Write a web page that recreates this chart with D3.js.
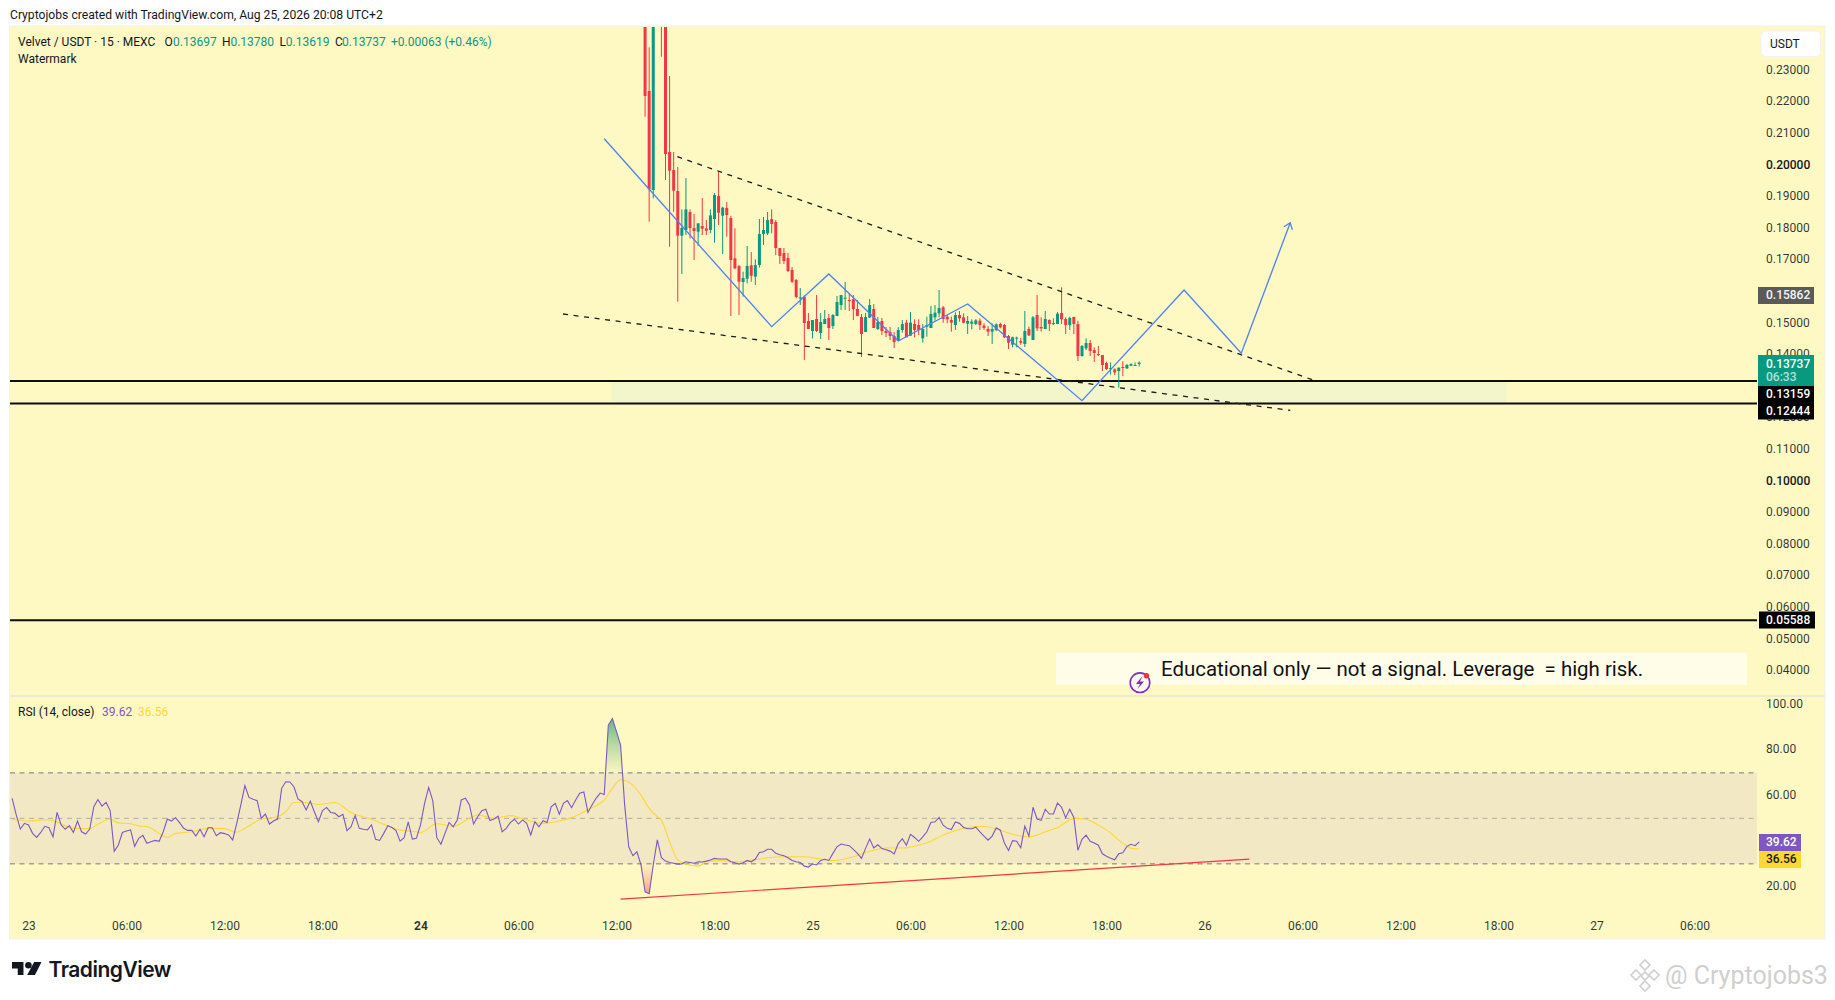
<!DOCTYPE html>
<html>
<head>
<meta charset="utf-8">
<title>Velvet / USDT</title>
<script src="https://cdnjs.cloudflare.com/ajax/libs/d3/7.8.5/d3.min.js"></script>
<style>
  html, body { margin: 0; padding: 0; background: #fff; overflow: hidden; }
  svg { display: block; }
  text { font-family: Roboto, "Noto Sans", sans-serif; white-space: pre; }
</style>
</head>
<body>
<svg id="chart" width="1835" height="1000"></svg>
<script>
// Candles start at this bar (15 minute bars counted from Aug 23 00:00)
const firstCandleBar = 151;

const opens = [
  0.27, 0.22335, 0.19202, 0.3, 0.28, 0.25, 0.20405, 0.19835, 0.1917, 0.17757,
  0.17936, 0.18506, 0.17999, 0.17883, 0.18063, 0.17989, 0.17936, 0.18284, 0.19012, 0.1839,
  0.18632, 0.18316, 0.17039, 0.16797, 0.16291, 0.16396, 0.16818, 0.16459, 0.16828, 0.1781,
  0.17831, 0.18284, 0.18189, 0.17366, 0.17208, 0.1705, 0.1667, 0.16354, 0.15774, 0.15826,
  0.15056, 0.1474, 0.1512, 0.14676, 0.14961, 0.15151, 0.14898, 0.15214, 0.15563, 0.15763,
  0.15721, 0.15742, 0.15436, 0.15183, 0.14708, 0.15162, 0.15436, 0.14803, 0.15056, 0.1474,
  0.14708, 0.14582, 0.14423, 0.14772, 0.15004, 0.14592, 0.14962, 0.1493, 0.14508, 0.14877,
  0.14835, 0.15173, 0.15299, 0.15489, 0.15194, 0.15088, 0.1493, 0.15246, 0.15173, 0.14972,
  0.14972, 0.14962, 0.15067, 0.14909, 0.14803, 0.14719, 0.14761, 0.14962, 0.1493, 0.14582,
  0.14308, 0.14497, 0.14424, 0.14329, 0.14803, 0.14455, 0.15246, 0.14867, 0.14803, 0.15088,
  0.14962, 0.14962, 0.1531, 0.1512, 0.1493, 0.15183, 0.14962, 0.13949, 0.14192, 0.1436,
  0.14139, 0.14012, 0.1398, 0.13727, 0.13537, 0.13527, 0.13474, 0.13601, 0.13559, 0.13643,
  0.13643, 0.13697
];
const highs = [
  0.275, 0.23717, 0.3, 0.33, 0.295, 0.26, 0.2281, 0.20405, 0.1993, 0.1859,
  0.19582, 0.1859, 0.18442, 0.18147, 0.18949, 0.18253, 0.1859, 0.19107, 0.19803, 0.18675,
  0.18822, 0.18379, 0.17989, 0.16828, 0.16618, 0.1743, 0.1724, 0.17008, 0.18284, 0.18348,
  0.18506, 0.1859, 0.18253, 0.17366, 0.17366, 0.17208, 0.16765, 0.16385, 0.16101, 0.15869,
  0.15309, 0.15088, 0.15879, 0.15309, 0.15404, 0.15278, 0.15278, 0.15847, 0.15879, 0.16291,
  0.15942, 0.15879, 0.15721, 0.15278, 0.15309, 0.15752, 0.15594, 0.15183, 0.15151, 0.14866,
  0.14866, 0.14708, 0.14866, 0.15088, 0.15088, 0.15341, 0.15109, 0.15109, 0.14962, 0.15194,
  0.15531, 0.15563, 0.16038, 0.15531, 0.15246, 0.15194, 0.15331, 0.15373, 0.15299, 0.15215,
  0.15109, 0.1512, 0.15141, 0.14983, 0.14898, 0.14983, 0.14983, 0.15004, 0.14962, 0.14613,
  0.14561, 0.14561, 0.14519, 0.15373, 0.14877, 0.15215, 0.15879, 0.15173, 0.15373, 0.15109,
  0.15141, 0.15341, 0.16122, 0.15173, 0.15194, 0.15194, 0.15067, 0.14297, 0.14508, 0.14455,
  0.14223, 0.14265, 0.1398, 0.1377, 0.13748, 0.13559, 0.1359, 0.1378, 0.13696, 0.13717,
  0.13748, 0.1378
];
const lows = [
  0.21523, 0.182, 0.18938, 0.26, 0.23422, 0.19518, 0.17409, 0.18516, 0.15668, 0.16544,
  0.17778, 0.17672, 0.16987, 0.1743, 0.17778, 0.17778, 0.17831, 0.17535, 0.18094, 0.17177,
  0.17725, 0.15214, 0.16691, 0.15246, 0.15826, 0.16248, 0.16301, 0.16196, 0.16744, 0.17461,
  0.17778, 0.17831, 0.17145, 0.1686, 0.1686, 0.16607, 0.16259, 0.15774, 0.15563, 0.13822,
  0.14803, 0.14508, 0.14708, 0.14487, 0.14961, 0.14455, 0.14803, 0.15214, 0.15404, 0.15404,
  0.15373, 0.15088, 0.15214, 0.13917, 0.14708, 0.15162, 0.14835, 0.14771, 0.14613, 0.1455,
  0.14455, 0.14202, 0.14423, 0.14687, 0.1454, 0.14592, 0.1454, 0.14613, 0.14371, 0.14561,
  0.14835, 0.15067, 0.15173, 0.15004, 0.14983, 0.14719, 0.14772, 0.15035, 0.14983, 0.14645,
  0.14793, 0.1493, 0.14772, 0.14772, 0.14582, 0.14329, 0.14751, 0.14824, 0.14519, 0.1417,
  0.14223, 0.14223, 0.14308, 0.14234, 0.14582, 0.14455, 0.1474, 0.14719, 0.14803, 0.1474,
  0.1493, 0.14962, 0.14962, 0.14645, 0.14772, 0.14645, 0.13791, 0.13928, 0.14139, 0.13949,
  0.13759, 0.13949, 0.13474, 0.13506, 0.13358, 0.13348, 0.12947, 0.13316, 0.13537, 0.13632,
  0.13632, 0.13619
];
const closes = [
  0.22177, 0.19223, 0.29, 0.28, 0.25, 0.20341, 0.19814, 0.19181, 0.17757, 0.17999,
  0.1859, 0.17999, 0.17904, 0.18147, 0.17978, 0.17915, 0.184, 0.19044, 0.18485, 0.18643,
  0.18411, 0.16987, 0.16723, 0.16301, 0.16417, 0.16797, 0.16491, 0.16828, 0.1781, 0.17936,
  0.18253, 0.18126, 0.17366, 0.17113, 0.16955, 0.16639, 0.16301, 0.15816, 0.15805, 0.14993,
  0.14803, 0.15088, 0.1474, 0.15025, 0.1512, 0.14835, 0.15246, 0.15658, 0.15879, 0.15795,
  0.15689, 0.15436, 0.15214, 0.14645, 0.15183, 0.15563, 0.14835, 0.15025, 0.1474, 0.14676,
  0.14582, 0.14392, 0.14771, 0.14962, 0.1454, 0.15004, 0.14772, 0.14772, 0.14803, 0.1493,
  0.15278, 0.1532, 0.15468, 0.1512, 0.15109, 0.15004, 0.15246, 0.15141, 0.15004, 0.15057,
  0.15035, 0.15078, 0.1493, 0.14835, 0.14719, 0.14803, 0.14951, 0.14856, 0.1454, 0.14371,
  0.1454, 0.14529, 0.14371, 0.1474, 0.14603, 0.15173, 0.14824, 0.14824, 0.1512, 0.14962,
  0.14993, 0.15289, 0.15109, 0.1493, 0.15151, 0.14962, 0.13949, 0.14265, 0.1436, 0.14107,
  0.14044, 0.1398, 0.13664, 0.13537, 0.13569, 0.13432, 0.1358, 0.1358, 0.13664, 0.13696,
  0.13664, 0.13737
];

// RSI line, one value per bar starting at bar -4
const firstRsiBar = -4;
const rsiValues = [
  58.8, 51.5, 45.3, 47.8, 47.1, 43.4, 41.6, 43.8, 46.5, 45.9,
  41.9, 52.6, 47.1, 45.2, 46.8, 43.8, 48.8, 44.1, 43.1, 45.3,
  55.1, 58.3, 55.4, 57.0, 53.4, 35.5, 38.3, 43.8, 44.4, 44.9,
  37.7, 41.2, 42.5, 39.0, 39.7, 40.3, 39.9, 44.1, 49.7, 48.8,
  50.3, 48.1, 45.6, 44.7, 44.7, 42.2, 45.2, 41.9, 45.9, 45.9,
  42.4, 43.7, 43.3, 42.7, 40.5, 47.8, 55.9, 64.4, 59.2, 58.4,
  57.8, 50.0, 51.9, 47.5, 48.8, 49.7, 63.2, 66.1, 66.0, 63.9,
  58.5,
  57.3, 53.7, 57.6, 52.9, 48.5, 53.4, 54.8, 52.6, 52.3, 50.7,
  51.8, 44.6, 46.3, 51.3, 45.6, 45.2, 44.9, 47.1, 40.8, 40.3,
  43.4, 46.8, 46.0, 44.6, 40.0, 41.5, 48.5, 40.9, 41.2, 47.1,
  56.6, 63.6, 57.8, 41.5, 38.6, 43.4, 48.2, 46.3, 49.3, 58.1,
  58.9, 55.9, 47.5, 50.7, 53.4, 54.0, 49.0, 49.7, 51.0, 44.1,
  45.6, 48.1, 49.6, 47.5, 49.3, 47.8, 42.7, 48.5, 46.3, 49.0,
  48.2, 55.1, 56.6, 51.8, 56.6, 57.8, 54.7, 58.1, 61.0, 61.6,
  52.6, 55.9, 58.8, 61.1, 60.5,
  91.0, 93.9, 88.1, 82.2, 55.8, 37.5, 33.6, 35.3, 29.5, 17.7,
  16.9, 29.5, 40.5, 32.7, 31.2, 30.6, 30.3, 29.9, 30.0, 30.9,
  30.6, 30.3, 30.9, 30.8, 31.2, 31.7, 32.4, 32.1, 32.1, 32.1,
  30.9, 30.5, 29.9, 30.5, 31.5, 30.9, 32.1, 35.0, 35.3, 36.4,
  36.4, 34.6, 34.0, 33.6, 32.7, 31.5, 30.9, 30.6, 29.0, 28.6,
  29.9, 29.5, 31.5, 32.0, 31.5, 34.6, 37.5, 38.7, 38.3, 38.0,
  36.4, 34.6, 32.4, 36.8, 40.9,
  37.0, 38.4, 36.7, 36.2, 35.6, 34.4, 38.9, 41.1, 38.2, 43.0,
  41.6, 39.9, 41.9, 44.1, 48.2, 48.5, 50.4, 47.0, 45.6, 45.1,
  48.4, 47.8, 46.0, 45.4, 45.4, 46.1, 44.1, 42.2, 40.4, 42.2,
  45.9, 44.8, 39.2, 35.9, 40.2, 39.9, 37.1, 46.6, 42.2, 54.9,
  49.7, 49.1, 54.0, 51.9, 51.9, 56.7, 54.9, 50.3, 54.0, 50.4,
  35.9, 40.8, 42.6, 39.9, 39.2, 38.2, 34.4, 33.3, 32.5, 31.8,
  34.4, 34.9, 37.7, 38.6, 38.0, 39.62
];

const rsiMaBars = [
  -4, 0, 4, 6, 9, 11, 15, 17, 20, 22, 25, 27, 29, 32, 34, 36, 40, 44, 48, 51,
  53, 57, 61, 63, 65, 67, 71, 75, 79, 84, 87, 91, 94, 96, 100, 104, 108, 110, 114, 118,
  122, 126, 130, 134, 137, 141, 143, 145, 148, 150, 152, 154, 155, 157, 159, 161, 164, 166, 170, 174,
  178, 184, 190, 194, 197, 202, 206, 210, 214, 216, 220, 224, 228, 232, 234, 238, 242, 245, 248, 250,
  252, 254, 256, 259, 262, 265, 267, 269, 270, 272
];
const rsiMaValues = [
  49.6, 48.8, 49.4, 49.0, 46.7, 45.6, 45.5, 47.4, 49.7, 48.0, 47.7, 46.7, 46.4, 43.4, 41.6, 43.4, 44.1, 45.6, 45.5, 43.9,
  45.6, 49.6, 50.7, 52.9, 57.0, 57.1, 56.1, 57.0, 52.5, 49.6, 47.4, 44.9, 44.3, 43.8, 47.6, 46.5, 50.0, 51.5, 50.0, 51.2,
  49.3, 47.8, 48.8, 51.0, 53.9, 58.1, 63.2, 67.0, 64.6, 60.2, 54.4, 50.7, 49.2, 39.7, 31.7, 29.9, 29.0, 30.9, 31.4, 30.9,
  31.8, 33.1, 33.1, 32.1, 31.4, 33.1, 35.5, 37.0, 37.0, 37.4, 39.3, 42.6, 45.1, 46.4, 46.4, 44.7, 42.6, 41.9, 43.3, 44.8,
  45.9, 48.2, 50.0, 49.6, 47.0, 43.6, 40.4, 37.9, 36.8, 36.56
];

// Drawings, as bar and price
const upperTrendBars = [158.9, 314.6];
const upperTrendPrices = [0.20256, 0.1319];
const lowerTrendBars = [130.9, 309];
const lowerTrendPrices = [0.15278, 0.12228];
const projectionBars = [141, 182, 196, 213, 230, 258, 283, 297, 309];
const projectionPrices = [0.20826, 0.14877, 0.16544, 0.14424, 0.15595, 0.12535, 0.16038, 0.14035, 0.18168];
const rsiTrendBars = [145, 299];
const rsiTrendValues = [14.5, 32.1];

// Horizontal levels
const levelPrices = [0.13159, 0.12444, 0.05588];
const zoneBars = [142.7, 362];

// Axis ticks
const priceTicks = [0.23, 0.22, 0.21, 0.2, 0.19, 0.18, 0.17, 0.15, 0.14, 0.12, 0.11, 0.1, 0.09, 0.08, 0.07, 0.06, 0.05, 0.04];
const rsiTicks = [100, 80, 60, 20];
const timeTickBars = [0, 24, 48, 72, 96, 120, 144, 168, 192, 216, 240, 264, 288, 312, 336, 360, 384, 408];
const timeTickLabels = ["23", "06:00", "12:00", "18:00", "24", "06:00", "12:00", "18:00", "25", "06:00", "12:00", "18:00", "26", "06:00", "12:00", "18:00", "27", "06:00"];

const green = "#089981";
const red = "#f23645";
const textColor = "#131722";
const panelColor = "#fef8c3";

const svg = d3.select("#chart");

// Scales
const xScale = d3.scaleLinear().domain([0, 432]).range([28.5, 1792.5]);
const yPrice = d3.scaleLinear().domain([0.04, 0.23]).range([670.4, 70]);
const yRsi = d3.scaleLinear().domain([20, 100]).range([886.6, 704.6]);

// Panel background
svg.append("rect").attr("x", 9.5).attr("y", 26).attr("width", 1815.5).attr("height", 913)
  .attr("fill", panelColor).attr("stroke", "#f0f0ee").attr("stroke-width", 1);
svg.append("line").attr("x1", 10).attr("x2", 1825).attr("y1", 696).attr("y2", 696)
  .attr("stroke", "#d9dbe3").attr("stroke-width", 1.2);

const defs = svg.append("defs");
defs.append("clipPath").attr("id", "pricePane").append("rect")
  .attr("x", 10).attr("y", 27).attr("width", 1747).attr("height", 668);
defs.append("clipPath").attr("id", "aboveBand").append("rect")
  .attr("x", 10).attr("y", 697).attr("width", 1747).attr("height", yRsi(70) - 697);
defs.append("clipPath").attr("id", "belowBand").append("rect")
  .attr("x", 10).attr("y", yRsi(30)).attr("width", 1747).attr("height", 939 - yRsi(30));

const overGradient = defs.append("linearGradient").attr("id", "overFill")
  .attr("gradientUnits", "userSpaceOnUse")
  .attr("x1", 0).attr("x2", 0).attr("y1", yRsi(94)).attr("y2", yRsi(70));
overGradient.append("stop").attr("offset", 0).attr("stop-color", "#4fae7c").attr("stop-opacity", 0.9);
overGradient.append("stop").attr("offset", 1).attr("stop-color", "#8bc48c").attr("stop-opacity", 0.05);
const underGradient = defs.append("linearGradient").attr("id", "underFill")
  .attr("gradientUnits", "userSpaceOnUse")
  .attr("x1", 0).attr("x2", 0).attr("y1", yRsi(30)).attr("y2", yRsi(17));
underGradient.append("stop").attr("offset", 0).attr("stop-color", "#f2a08a").attr("stop-opacity", 0.05);
underGradient.append("stop").attr("offset", 1).attr("stop-color", "#f0906f").attr("stop-opacity", 0.8);

const arrowHead = defs.append("marker").attr("id", "arrowHead")
  .attr("viewBox", "-8 -6 10 12").attr("refX", 0).attr("refY", 0)
  .attr("markerWidth", 10).attr("markerHeight", 12).attr("markerUnits", "userSpaceOnUse")
  .attr("orient", "auto");
arrowHead.append("path").attr("d", "M-6,-4.5L0,0L-6,4.5").attr("fill", "none")
  .attr("stroke", "#4f80f0").attr("stroke-width", 1.3);

// Support zone between the two close levels
const pricePane = svg.append("g").attr("clip-path", "url(#pricePane)");
pricePane.append("rect")
  .attr("x", xScale(zoneBars[0]))
  .attr("width", xScale(zoneBars[1]) - xScale(zoneBars[0]))
  .attr("y", yPrice(levelPrices[0]))
  .attr("height", yPrice(levelPrices[1]) - yPrice(levelPrices[0]))
  .attr("fill", "#f3f5cb");

// Horizontal levels
pricePane.selectAll(".level").data(levelPrices).enter().append("line")
  .attr("class", "level")
  .attr("x1", 10).attr("x2", 1757)
  .attr("y1", (d) => yPrice(d)).attr("y2", (d) => yPrice(d))
  .attr("stroke", "#0d0f0c").attr("stroke-width", 2);

// Candles
const candles = opens.map((open, i) => ({
  bar: firstCandleBar + i,
  open: open,
  high: highs[i],
  low: lows[i],
  close: closes[i],
}));
const candleColor = (d) => (d.close >= d.open ? green : red);

pricePane.selectAll(".wick").data(candles).enter().append("line")
  .attr("class", "wick")
  .attr("x1", (d) => xScale(d.bar)).attr("x2", (d) => xScale(d.bar))
  .attr("y1", (d) => yPrice(d.high)).attr("y2", (d) => yPrice(d.low))
  .attr("stroke", candleColor).attr("stroke-width", 1);
pricePane.selectAll(".body").data(candles).enter().append("rect")
  .attr("class", "body")
  .attr("x", (d) => xScale(d.bar) - 1.5)
  .attr("width", 3)
  .attr("y", (d) => yPrice(Math.max(d.open, d.close)))
  .attr("height", (d) => Math.max(1, Math.abs(yPrice(d.open) - yPrice(d.close))))
  .attr("fill", candleColor);

// Dashed wedge lines and the projected path
const priceLine = d3.line().x((d) => xScale(d[0])).y((d) => yPrice(d[1]));
[[upperTrendBars, upperTrendPrices], [lowerTrendBars, lowerTrendPrices]].forEach(([bars, prices]) => {
  pricePane.append("path")
    .attr("d", priceLine(d3.zip(bars, prices)))
    .attr("fill", "none").attr("stroke", "#1b1b1b")
    .attr("stroke-width", 1.3).attr("stroke-dasharray", "5,5.6");
});
pricePane.append("path")
  .attr("d", priceLine(d3.zip(projectionBars, projectionPrices)))
  .attr("fill", "none").attr("stroke", "#4f80f0").attr("stroke-width", 1.3)
  .attr("marker-end", "url(#arrowHead)");

// RSI band and levels
svg.append("rect")
  .attr("x", 10).attr("width", 1747)
  .attr("y", yRsi(70)).attr("height", yRsi(30) - yRsi(70))
  .attr("fill", "#f2e8c4");
[[70, "#787b86"], [50, "#b0aea6"], [30, "#787b86"]].forEach(([level, color]) => {
  svg.append("line")
    .attr("x1", 10).attr("x2", 1757)
    .attr("y1", yRsi(level)).attr("y2", yRsi(level))
    .attr("stroke", color).attr("stroke-width", 1).attr("stroke-dasharray", "5,4.5");
});

// RSI line with overbought and oversold fills
const rsiPoints = rsiValues.map((value, i) => ({ bar: firstRsiBar + i, value: value }));
const rsiX = (d) => xScale(d.bar);
svg.append("path")
  .datum(rsiPoints)
  .attr("clip-path", "url(#aboveBand)")
  .attr("fill", "url(#overFill)")
  .attr("d", d3.area().x(rsiX).y0(yRsi(70)).y1((d) => yRsi(d.value)));
svg.append("path")
  .datum(rsiPoints)
  .attr("clip-path", "url(#belowBand)")
  .attr("fill", "url(#underFill)")
  .attr("d", d3.area().x(rsiX).y0(yRsi(30)).y1((d) => yRsi(d.value)));
svg.append("path")
  .attr("d", d3.line().x((d) => xScale(d[0])).y((d) => yRsi(d[1])).curve(d3.curveMonotoneX)(d3.zip(rsiMaBars, rsiMaValues)))
  .attr("fill", "none").attr("stroke", "#fdd835").attr("stroke-width", 1.1);
svg.append("path")
  .datum(rsiPoints)
  .attr("fill", "none").attr("stroke", "#7e57c2").attr("stroke-width", 1.1)
  .attr("d", d3.line().x(rsiX).y((d) => yRsi(d.value)));
svg.append("path")
  .attr("d", d3.line().x((d) => xScale(d[0])).y((d) => yRsi(d[1]))(d3.zip(rsiTrendBars, rsiTrendValues)))
  .attr("fill", "none").attr("stroke", "#f23645").attr("stroke-width", 1.2);

// Axes
const styleAxis = (axis) => {
  axis.select(".domain").remove();
  axis.selectAll(".tick line").remove();
  axis.selectAll("text")
    .attr("fill", textColor).attr("fill-opacity", 0.88)
    .style("font-size", "12px")
    .style("font-family", "Roboto, sans-serif");
};
const priceAxis = svg.append("g").attr("transform", "translate(1766,-0.5)")
  .call(d3.axisRight(yPrice).tickValues(priceTicks).tickSize(0).tickPadding(0).tickFormat(d3.format(".5f")));
styleAxis(priceAxis);
priceAxis.selectAll(".tick text").filter((d) => d === 0.2 || d === 0.1)
  .style("font-weight", 500).attr("fill-opacity", 1);

const rsiAxis = svg.append("g").attr("transform", "translate(1766,-1)")
  .call(d3.axisRight(yRsi).tickValues(rsiTicks).tickSize(0).tickPadding(0).tickFormat(d3.format(".2f")));
styleAxis(rsiAxis);

const timeAxis = svg.append("g").attr("transform", "translate(0,921)")
  .call(d3.axisBottom(xScale).tickValues(timeTickBars).tickSize(0).tickPadding(0)
    .tickFormat((d, i) => timeTickLabels[i]));
styleAxis(timeAxis);
timeAxis.selectAll(".tick text").filter((d, i) => timeTickLabels[i] === "24")
  .style("font-weight", 700);

// Price tags on the axis
const tag = (x, y, w, h, fill) => svg.append("rect")
  .attr("x", x).attr("y", y).attr("width", w).attr("height", h).attr("fill", fill);
const tagText = (label, y, fill, opacity) => svg.append("text")
  .attr("x", 1766).attr("y", y).attr("dy", "0.3em")
  .attr("fill", fill).attr("fill-opacity", opacity === undefined ? 1 : opacity)
  .style("font-size", "12px").style("font-weight", 500).text(label);

tag(1758, 287, 56, 17, "#5a5a5a");
tagText("0.15862", 295.2, "#f4f4f4");
tag(1758, 355, 56, 31, green);
tagText("0.13737", 364, "#ffffff");
tagText("06:33", 377.7, "#ffffff", 0.7);
tag(1758, 386, 56, 33.5, "#000000");
tagText("0.13159", 394.7, "#ffffff");
tagText("0.12444", 411.7, "#ffffff");
tag(1759, 611.5, 56, 17, "#000000");
tagText("0.05588", 620, "#ffffff");
tag(1759, 834, 42, 17, "#7e57c2");
tagText("39.62", 842.3, "#ffffff");
tag(1759, 851, 42, 17, "#fdd835");
tagText("36.56", 859.5, textColor);

// Currency button
svg.append("rect").attr("x", 1761).attr("y", 31).attr("width", 59.5).attr("height", 25.5)
  .attr("rx", 4).attr("fill", "#ffffff").attr("stroke", "#f0f1f3");
svg.append("text").attr("x", 1770).attr("y", 44).attr("dy", "0.35em")
  .attr("fill", textColor).style("font-size", "12px").text("USDT");

// Header and legends
const label = (x, y, value, fill, size) => svg.append("text")
  .attr("x", x).attr("y", y).attr("dy", "0.35em")
  .attr("fill", fill || textColor).style("font-size", size || "12px").text(value);

label(10, 15, "Cryptojobs created with TradingView.com, Aug 25, 2026 20:08 UTC+2", textColor, "12.15px");
label(18, 41.7, "Velvet / USDT · 15 · MEXC");
label(164.4, 41.7, "O");
label(173, 41.7, "0.13697", green);
label(222, 41.7, "H");
label(230.4, 41.7, "0.13780", green);
label(279.4, 41.7, "L");
label(285.8, 41.7, "0.13619", green);
label(335, 41.7, "C");
label(342, 41.7, "0.13737", green);
label(391, 41.7, "+0.00063 (+0.46%)", green);
label(18, 59, "Watermark");
label(18, 711.7, "RSI (14, close)");
label(102, 711.7, "39.62", "#7e57c2");
label(138, 711.7, "36.56", "#fdd835");

// Note box with its icon
svg.append("rect").attr("x", 1056).attr("y", 652.5).attr("width", 691).attr("height", 32.5).attr("fill", "#fffce8");
svg.append("text").attr("x", 1161).attr("y", 675.5).attr("fill", "#111111")
  .style("font-size", "20.45px")
  .text("Educational only — not a signal. Leverage  = high risk.");
svg.append("circle").attr("cx", 1140).attr("cy", 682.7).attr("r", 9.8)
  .attr("fill", "#fff8f0").attr("stroke", "#7b2fbe").attr("stroke-width", 1.6);
svg.append("path").attr("d", "M1142.5,676L1136,684H1140L1137.5,689L1144,681.5H1140Z").attr("fill", "#7b2fbe");
svg.append("circle").attr("cx", 1146.5).attr("cy", 675.7).attr("r", 2.7).attr("fill", "#e53935");

// TradingView mark
const logo = svg.append("g").attr("transform", "translate(12,957) scale(0.82)").attr("fill", "#131722");
logo.append("path").attr("d", "M14 6H0v8h7v8h7V6Z");
logo.append("circle").attr("cx", 20).attr("cy", 10).attr("r", 4);
logo.append("path").attr("d", "M27 6h9l-8 16h-9.500Z");
svg.append("text").attr("x", 48.5).attr("y", 976.5).attr("fill", "#131722")
  .style("font-size", "21px").style("font-weight", 600).style("font-family", "Inter, sans-serif")
  .style("letter-spacing", "-0.5px").text("TradingView");

// Watermark in the corner
const markColor = "#cfcfcf";
const mark = svg.append("g").attr("fill", "none").attr("stroke", markColor).attr("stroke-width", 1.6);
[[1645, 965, 5], [1636, 975, 5], [1654, 975, 5], [1645, 976, 4], [1645, 986, 5]].forEach(([cx, cy, r]) => {
  mark.append("path").attr("d", `M${cx},${cy - r}L${cx + r},${cy}L${cx},${cy + r}L${cx - r},${cy}Z`);
});
svg.append("text").attr("x", 1665).attr("y", 984).attr("fill", markColor)
  .style("font-size", "25px").text("@ Cryptojobs3");
</script>
</body>
</html>
